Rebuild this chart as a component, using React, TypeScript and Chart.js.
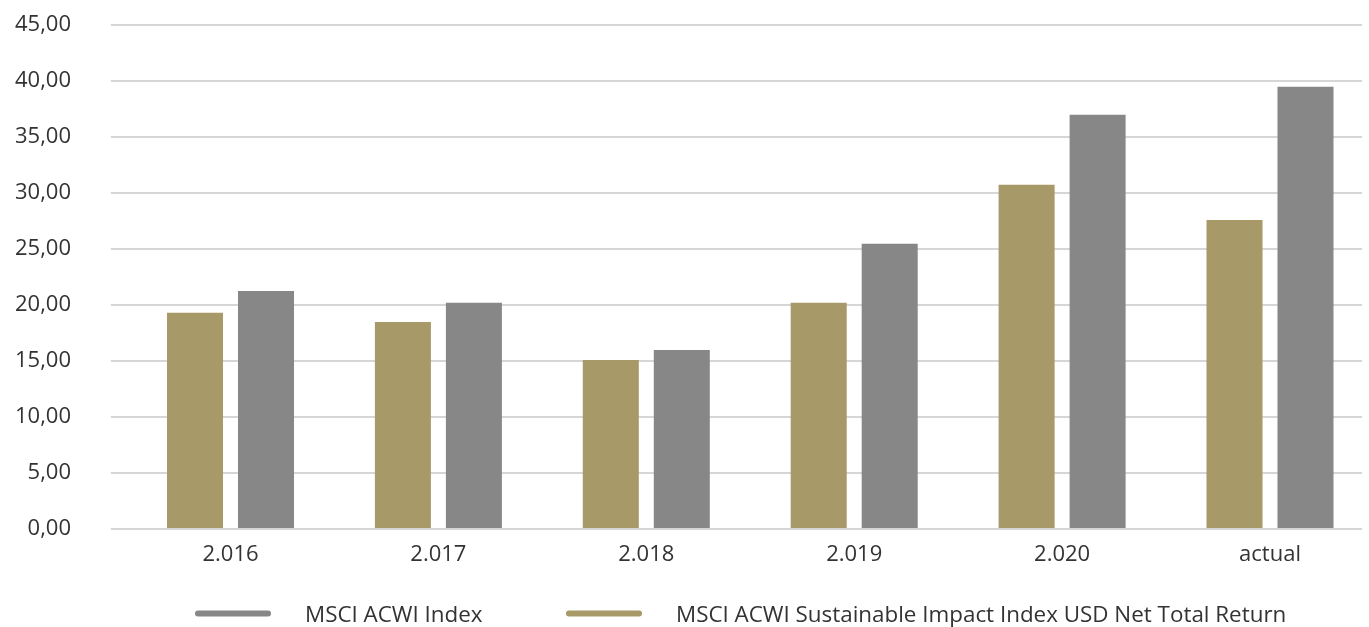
import React, { useEffect, useRef } from 'react';
import { Chart, registerables } from 'chart.js';

Chart.register(...registerables);

const categories = ['2.016', '2.017', '2.018', '2.019', '2.020', 'actual'];
const sustainableImpactValues = [19.3, 18.49, 15.1, 20.19, 30.73, 27.6];
const acwiIndexValues = [21.26, 20.19, 15.99, 25.46, 36.99, 39.49];
const yTickValues = [0, 5, 10, 15, 20, 25, 30, 35, 40, 45];
const seriesNames = ['MSCI ACWI Sustainable Impact Index USD Net Total Return', 'MSCI ACWI Index'];

const GOLD = '#A89968';
const GRAY = '#878787';
const TEXT = '#333333';
const FONT = "'Open Sans', 'Noto Sans', sans-serif";

export default function App() {
  const canvasRef = useRef<HTMLCanvasElement | null>(null);

  useEffect(() => {
    if (!canvasRef.current) return;
    const chart = new Chart(canvasRef.current, {
      type: 'bar',
      data: {
        labels: categories,
        datasets: [
          {
            label: seriesNames[0],
            data: sustainableImpactValues,
            backgroundColor: GOLD,
            borderWidth: 0,
            categoryPercentage: 0.683,
            barPercentage: 0.789,
          },
          {
            label: seriesNames[1],
            data: acwiIndexValues,
            backgroundColor: GRAY,
            borderWidth: 0,
            categoryPercentage: 0.683,
            barPercentage: 0.789,
          },
        ],
      },
      options: {
        animation: false,
        responsive: false,
        maintainAspectRatio: false,
        layout: { padding: { top: 25, right: 7, bottom: 58, left: 0 } },
        plugins: {
          legend: { display: false },
          tooltip: { enabled: false },
        },
        scales: {
          x: {
            grid: { display: false, drawTicks: false },
            border: { display: false },
            ticks: {
              color: TEXT,
              padding: 13,
              font: { family: FONT, size: 22 },
              maxRotation: 0,
            },
            afterBuildTicks: (scale: any) => {
              scale._startValue = -0.5748;
              scale._valueRange = 6.0173;
            },
            afterFit: (scale: any) => {
              scale.height = 40;
            },
          },
          y: {
            min: 0,
            max: 45,
            afterBuildTicks: (scale: any) => {
              scale.ticks = yTickValues.map((v) => ({ value: v }));
            },
            afterFit: (scale: any) => {
              scale.width = 111;
              scale.paddingTop = 13;
              scale.paddingBottom = 13;
            },
            grid: {
              color: '#d6d6d6',
              lineWidth: 2,
              drawTicks: false,
            },
            border: { display: false },
            ticks: {
              color: TEXT,
              padding: 40,
              font: { family: FONT, size: 22 },
              callback: (v: any) => Number(v).toFixed(2).replace('.', ','),
            },
          },
        },
      },
    });
    return () => chart.destroy();
  }, []);

  const legendItems = [
    { name: seriesNames[1], color: GRAY, left: 195 },
    { name: seriesNames[0], color: GOLD, left: 566 },
  ];

  return (
    <div style={{ position: 'fixed', left: 0, top: 0, width: 1369, height: 627 }}>
      <canvas ref={canvasRef} width={1369} height={627} style={{ display: 'block' }} />
      {legendItems.map((it, i) => (
        <div
          key={i}
          style={{
            position: 'absolute',
            left: it.left,
            top: 613,
            transform: 'translateY(-50%)',
            display: 'flex',
            alignItems: 'center',
            fontFamily: FONT,
            fontSize: 22.4,
            color: TEXT,
            whiteSpace: 'nowrap',
          }}
        >
          <span
            style={{
              display: 'inline-block',
              width: 76,
              height: 6,
              borderRadius: 3,
              background: it.color,
              marginRight: 34,
            }}
          />
          <span>{it.name}</span>
        </div>
      ))}
    </div>
  );
}
